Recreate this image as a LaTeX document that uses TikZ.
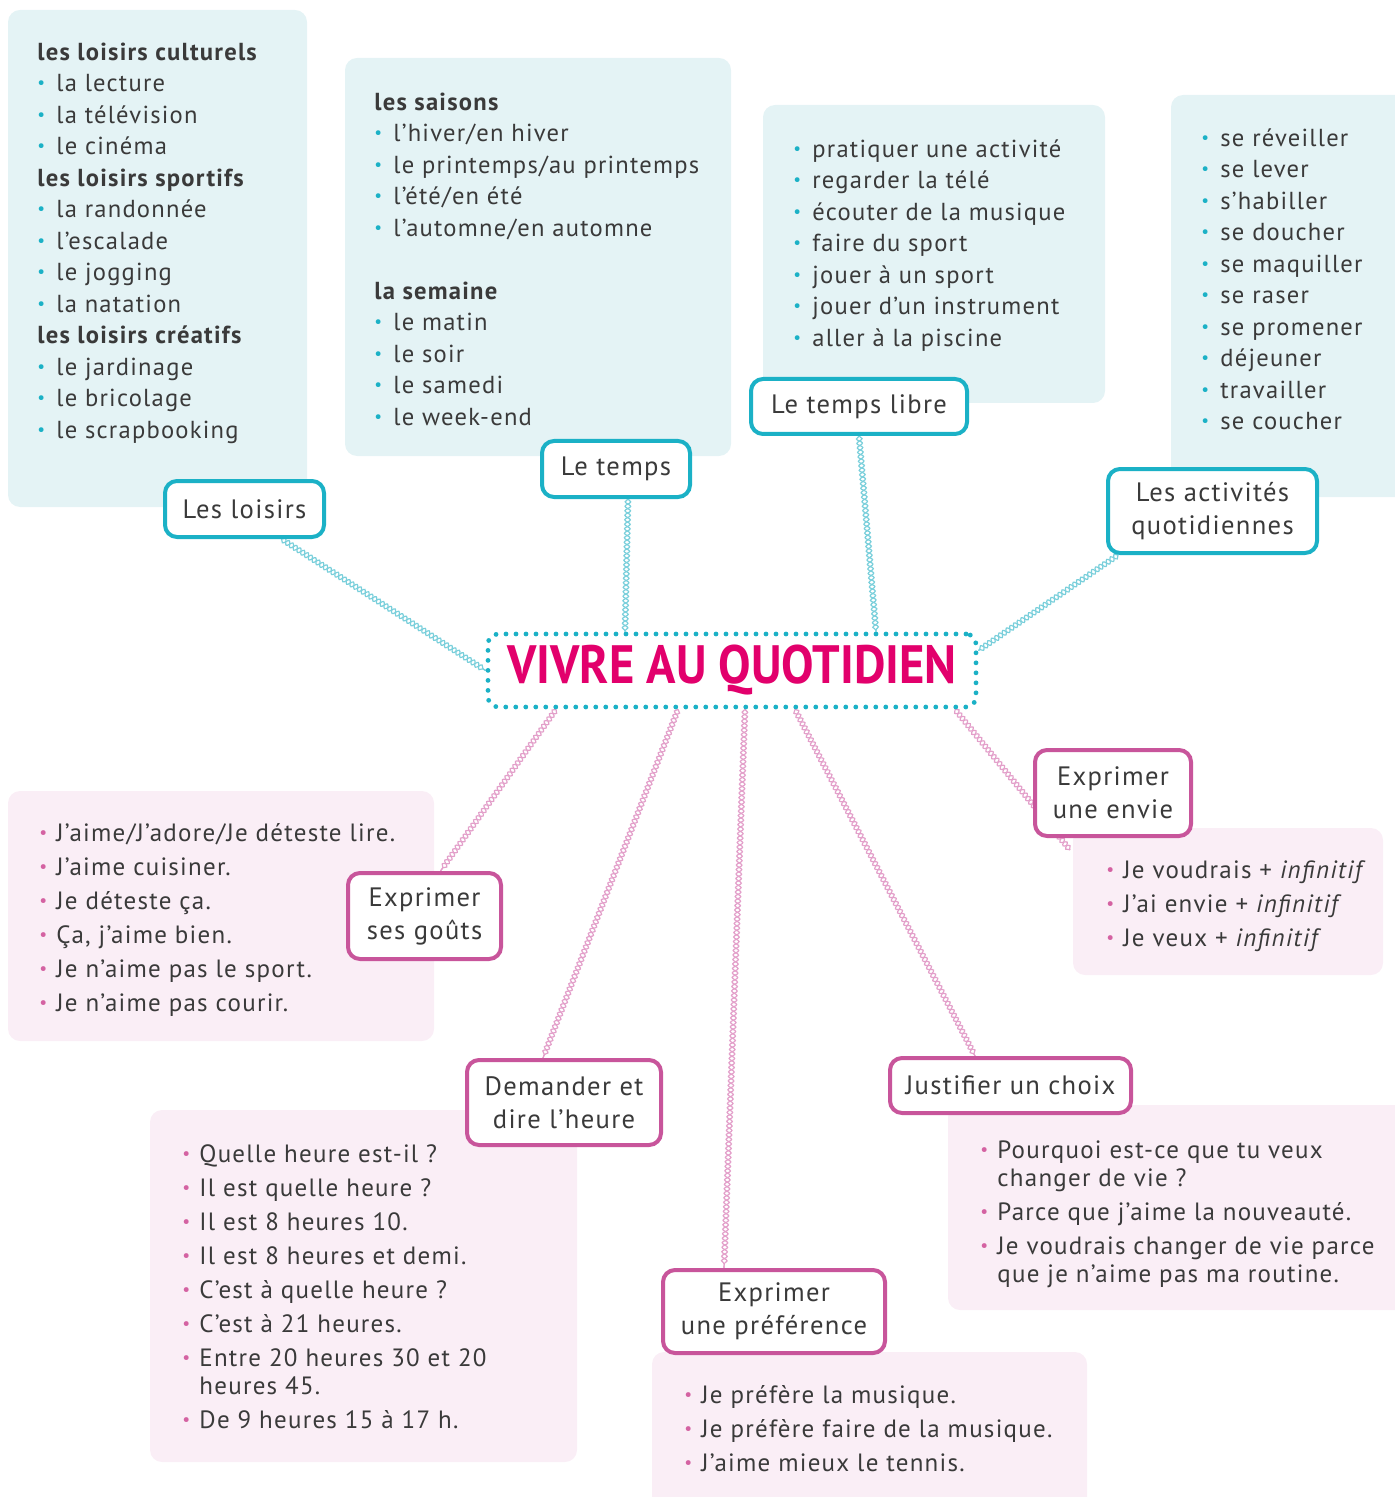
\documentclass[tikz,border=0pt]{standalone}
\usepackage{fontspec}
\setmainfont[LetterSpace=5]{PT Sans}
\newfontfamily\titlefont[FakeStretch=0.9]{PT Sans}
\usetikzlibrary{decorations.pathmorphing}
\pgfdeclarelayer{boxes}
\pgfdeclarelayer{ropes}
\pgfsetlayers{boxes,ropes,main}
\definecolor{tealc}{HTML}{1BB1C6}
\definecolor{tealfill}{HTML}{E4F3F5}
\definecolor{tealrope}{HTML}{7ACFDB}
\definecolor{pinkc}{HTML}{C8559B}
\definecolor{pinkbul}{HTML}{D462A2}
\definecolor{pinkfill}{HTML}{FAEEF6}
\definecolor{pinkrope}{HTML}{E3A0CA}
\definecolor{textc}{HTML}{3A3A3A}
\definecolor{magc}{HTML}{E2006C}
\newcommand\tb{\makebox[9.5pt][l]{\textcolor{tealc}{\raisebox{0.12em}{\scalebox{0.7}{\textbullet}}}}}
\newcommand\pb{\makebox[8.5pt][l]{\textcolor{pinkbul}{\raisebox{0.12em}{\scalebox{0.7}{\textbullet}}}}}
\newcommand\pind{\hspace*{8.5pt}}
\tikzset{
  tnode/.style={draw=tealc, line width=2pt, rounded corners=6pt, fill=white, text=textc,
    font=\fontsize{13.3}{16.5}\selectfont, align=center, inner sep=0pt},
  pnode/.style={tnode, draw=pinkc},
  tbox/.style={fill=tealfill, rounded corners=6pt},
  pbox/.style={fill=pinkfill, rounded corners=6pt},
  tlist/.style={anchor=north west, inner sep=0pt, align=left, text=textc,
    font=\fontsize{12.3}{15.75}\selectfont},
  plist/.style={anchor=north west, inner sep=0pt, align=left, text=textc,
    font=\fontsize{12.5}{14}\selectfont},
  ropeA/.style={draw=#1, line width=0.6pt, decorate,
    decoration={snake, amplitude=1.4pt, segment length=4.5pt}},
  ropeB/.style={draw=#1, line width=0.6pt, decorate,
    decoration={snake, amplitude=1.4pt, segment length=4.5pt, mirror}}
}
\newcommand\rope[3]{\draw[ropeA=#1] #2 -- #3; \draw[ropeB=#1] #2 -- #3;}
\begin{document}
\begin{tikzpicture}[x=0.5pt, y=-0.5pt]
\useasboundingbox (0,0) rectangle (1394,1497);

% ---- nodes ----
\node[draw=tealc, line width=2.4pt, dash pattern=on 0pt off 5pt, line cap=round,
  rounded corners=5pt, fill=white, minimum width=244pt, minimum height=36.5pt, inner sep=0pt,
  text=magc, font=\titlefont\bfseries\fontsize{27}{30}\selectfont] (centre) at (732,670.5) {VIVRE AU QUOTIDIEN};

\node[tnode, minimum width=79.5pt, minimum height=28pt] (loisirs) at (244.5,509) {Les loisirs};
\node[tnode, minimum width=74pt, minimum height=28pt] (temps) at (616,469) {Le temps};
\node[tnode, minimum width=108pt, minimum height=27.5pt] (libre) at (859,406.5) {Le temps libre};
\node[tnode, minimum width=104.5pt, minimum height=42pt] (activ) at (1212.5,511) {Les activités\\quotidiennes};

\node[pnode, minimum width=76.5pt, minimum height=43pt] (gouts) at (424.5,916) {Exprimer\\ses goûts};
\node[pnode, minimum width=78pt, minimum height=43pt] (envie) at (1113,793) {Exprimer\\une envie};
\node[pnode, minimum width=97pt, minimum height=42.5pt] (heure) at (564,1102.5) {Demander et\\dire l’heure};
\node[pnode, minimum width=120.5pt, minimum height=27.5pt] (choix) at (1010.5,1085.5) {Justifier un choix};
\node[pnode, minimum width=111pt, minimum height=41.5pt] (pref) at (774,1311.5) {Exprimer\\une préférence};

% ---- list texts ----
\node[tlist] (l1) at (37,38) {\strut\textbf{les loisirs culturels}\\
\tb la lecture\\ \tb la télévision\\ \tb le cinéma\\
\textbf{les loisirs sportifs}\\
\tb la randonnée\\ \tb l’escalade\\ \tb le jogging\\ \tb la natation\\
\textbf{les loisirs créatifs}\\
\tb le jardinage\\ \tb le bricolage\\ \tb le scrapbooking};

\node[tlist] (l2) at (374,88) {\strut\textbf{les saisons}\\
\tb l’hiver/en hiver\\ \tb le printemps/au printemps\\ \tb l’été/en été\\ \tb l’automne/en automne\\
\mbox{}\\
\textbf{la semaine}\\
\tb le matin\\ \tb le soir\\ \tb le samedi\\ \tb le week-end};

\node[tlist] (l3) at (793,135) {\strut\tb pratiquer une activité\\ \tb regarder la télé\\ \tb écouter de la musique\\
\tb faire du sport\\ \tb jouer à un sport\\ \tb jouer d’un instrument\\ \tb aller à la piscine};

\node[tlist] (l4) at (1201,124) {\strut\tb se réveiller\\ \tb se lever\\ \tb s’habiller\\ \tb se doucher\\
\tb se maquiller\\ \tb se raser\\ \tb se promener\\ \tb déjeuner\\ \tb travailler\\ \tb se coucher};

\node[plist] (p1) at (39,821.4) {\strut\pb J’aime/J’adore/Je déteste lire.\\[3pt] \pb J’aime cuisiner.\\[3pt]
\pb Je déteste ça.\\[3pt] \pb Ça, j’aime bien.\\[3pt] \pb Je n’aime pas le sport.\\[3pt] \pb Je n’aime pas courir.};

\node[plist] (p2) at (1106,858.4) {\strut\pb Je voudrais + \textit{infinitif}\\[3pt] \pb J’ai envie + \textit{infinitif}\\[3pt]
\pb Je veux + \textit{infinitif}};

\node[plist] (p3) at (182,1142.4) {\strut\pb Quelle heure est-il ?\\[3pt] \pb Il est quelle heure ?\\[3pt]
\pb Il est 8 heures 10.\\[3pt] \pb Il est 8 heures et demi.\\[3pt] \pb C’est à quelle heure ?\\[3pt]
\pb C’est à 21 heures.\\[3pt] \pb Entre 20 heures 30 et 20\\ \pind heures 45.\\[3pt] \pb De 9 heures 15 à 17 h.};

\node[plist] (p4) at (980,1138.4) {\strut\pb Pourquoi est-ce que tu veux\\ \pind changer de vie ?\\[3pt]
\pb Parce que j’aime la nouveauté.\\[3pt] \pb Je voudrais changer de vie parce\\ \pind que je n’aime pas ma routine.};

\node[plist] (p5) at (684,1383.4) {\strut\pb Je préfère la musique.\\[3pt] \pb Je préfère faire de la musique.\\[3pt]
\pb J’aime mieux le tennis.};

% ---- background boxes ----
\begin{pgfonlayer}{boxes}
\fill[tbox] (8,10) rectangle (307,507);
\fill[tbox] (345,58) rectangle (731,456);
\fill[tbox] (763,105) rectangle (1105,403);
\fill[tbox] (1171,95) rectangle (1420,497);
\fill[pbox] (8,791) rectangle (434,1041);
\fill[pbox] (1073,828) rectangle (1383,975);
\fill[pbox] (150,1110) rectangle (577,1462);
\fill[pbox] (948,1105) rectangle (1420,1310);
\fill[pbox] (652,1352) rectangle (1087,1520);
\end{pgfonlayer}

% ---- connectors ----
\begin{pgfonlayer}{ropes}
\rope{tealrope}{(loisirs.-39)}{(centre.west)}
\rope{tealrope}{([xshift=6pt]temps.south)}{([xshift=-53.5pt]centre.north)}
\rope{tealrope}{(libre.south)}{([xshift=72pt]centre.north)}
\rope{tealrope}{([xshift=6pt]activ.south west)}{([yshift=10pt]centre.east)}
\rope{pinkrope}{([xshift=-88pt]centre.south)}{([xshift=8pt]gouts.north)}
\rope{pinkrope}{([xshift=-27pt]centre.south)}{([xshift=-10.5pt]heure.north)}
\rope{pinkrope}{([xshift=6.5pt]centre.south)}{([xshift=-25pt]pref.north)}
\rope{pinkrope}{([xshift=31.5pt]centre.south)}{([xshift=-17.75pt]choix.north)}
\rope{pinkrope}{([xshift=111.5pt]centre.south)}{([xshift=-21.5pt,yshift=-6pt]envie.south)}
\end{pgfonlayer}
\end{tikzpicture}
\end{document}
